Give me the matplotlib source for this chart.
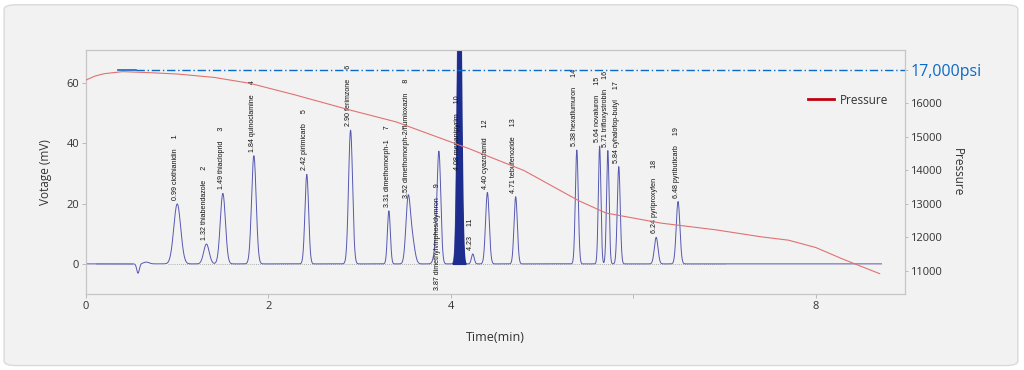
import matplotlib
matplotlib.use("Agg")
import matplotlib.pyplot as plt
import numpy as np
from matplotlib.lines import Line2D
from matplotlib.patches import FancyBboxPatch

plt.rcParams['font.family'] = ['Open Sans', 'DejaVu Sans']

# peak table
peak_rt = [1.00, 1.32, 1.50, 1.84, 2.42, 2.90, 3.32, 3.53, 3.87, 4.09,
           4.24, 4.40, 4.71, 5.38, 5.63, 5.72, 5.84, 6.25, 6.49]
peak_height = [19.9, 6.6, 23.4, 35.9, 29.7, 44.4, 17.6, 20.5, 33.0, 110.0,
               3.3, 23.7, 22.3, 37.8, 39.1, 37.6, 32.3, 8.8, 20.7]
peak_sigma = [0.038, 0.03, 0.028, 0.025, 0.02, 0.022, 0.016, 0.024, 0.02, 0.02,
              0.015, 0.02, 0.018, 0.016, 0.014, 0.014, 0.016, 0.02, 0.02]
peak_labels = ["0.99 clothianidin", "1.32 thiabendazole", "1.49 thiacloprid",
               "1.84 quinoclamine", "2.42 pirimicarb", "2.90 ferimzone",
               "3.31 dimethomorph-1", "3.52 dimethomorph-2/flumioxazin",
               "3.87 dimethylvinphos/dymron", "4.08 mepanipyrim", "4.23",
               "4.40 cyazofamid", "4.71 tebufenozide", "5.38 hexaflumuron",
               "5.64 novaluron", "5.71 trifloxystrobin", "5.84 cyhalofop-butyl",
               "6.24 pyriproxyfen", "6.48 pyributicarb"]
# where the label starts (mV); None = just above the peak
label_base = [None, None, None, None, None, None, None, None, -8.6, 31.0,
              None, None, None, None, None, None, None, None, None]

# small extra features: shoulders, injection dip
extra_rt = [3.575, 3.845, 0.57, 0.66]
extra_height = [8.0, 7.0, -3.1, 0.6]
extra_sigma = [0.028, 0.025, 0.014, 0.03]

# pressure curve (psi)
p_time = [0.0, 0.1, 0.2, 0.4, 0.7, 1.0, 1.4, 1.8, 2.3, 2.9, 3.4, 4.2,
          4.8, 5.4, 5.7, 6.3, 6.9, 7.4, 7.7, 8.0, 8.3, 8.7]
p_psi = [16700, 16820, 16890, 16950, 16920, 16880, 16780, 16600, 16250,
         15800, 15450, 14650, 14000, 13100, 12730, 12430, 12230, 12020,
         11920, 11700, 11350, 10920]

x_ticks = [0, 2, 4, 6, 8]
x_ticklabels = ["0", "2", "4", "", "8"]
left_ticks = [0, 20, 40, 60]
right_ticks = [11000, 12000, 13000, 14000, 15000, 16000, 17000]
right_ticklabels = ["11000", "12000", "13000", "14000", "15000", "16000", "17,000psi"]

# build detector trace
t = np.linspace(0, 8.72, 6000)
signal = np.zeros_like(t)
for rt, h, s in zip(peak_rt + extra_rt, peak_height + extra_height,
                    peak_sigma + extra_sigma):
    signal += h * np.exp(-0.5 * ((t - rt) / s) ** 2)

fig = plt.figure(figsize=(10.24, 3.70), dpi=100, facecolor='white')
card = FancyBboxPatch((0.004, 0.012), 0.99, 0.975, boxstyle="round,pad=0,rounding_size=0.012",
                      transform=fig.transFigure, facecolor='#f2f2f2', edgecolor='#dadada',
                      lw=1, zorder=-10)
fig.patches.append(card)

ax = fig.add_axes([0.084, 0.2054, 0.8, 0.6595])
ax.set_facecolor('#f2f2f2')
ax.set_xlim(0, 8.98)
ax.set_ylim(-10, 71)

ax.plot(t, signal, color='#5558b0', lw=0.7, zorder=3)
mask = (t > 4.02) & (t < 4.16)
ax.fill_between(t[mask], 0, signal[mask], color='#1d2d8e', zorder=3)
ax.plot([0.9, 7.0], [0, 0], color='#999999', lw=0.6, ls=(0, (1, 1.5)), zorder=2)
ax.plot([0.12, 0.5], [0, 0], color='#c8c8e0', lw=1.5, zorder=2)

for rt, h, lab, base, num in zip(peak_rt, peak_height, peak_labels, label_base,
                                 range(1, len(peak_rt) + 1)):
    y0 = h + 1.3 if base is None else base
    ax.text(rt - 0.02, y0, f"{lab}     {num}", rotation=90, ha='center', va='bottom',
            fontsize=5.1, color='#111111', family='Liberation Sans', zorder=5)

ax.set_xticks(x_ticks)
ax.set_xticklabels(x_ticklabels)
ax.set_yticks(left_ticks)
ax.tick_params(labelsize=8, colors='#333333', length=3, width=0.6, pad=2)
ax.tick_params(axis='both', color='#b0b0b0')
ax.set_xlabel("Time(min)", fontsize=9, color='#333333', labelpad=14)
ax.set_ylabel("Votage (mV)", fontsize=8.5, color='#333333', labelpad=10)
for sp in ax.spines.values():
    sp.set_color('#c6c6c6')
    sp.set_linewidth(0.8)

ax2 = ax.twinx()
ax2.set_ylim(10313, 17597)
ax2.plot(p_time, p_psi, color='#e07272', lw=0.8, zorder=4)
ax2.plot([0.35, 0.55], [17000, 17000], color='#0a6ac8', lw=1.2)
ax2.plot([0.55, 8.98], [17000, 17000], color='#0a6ac8', lw=1.0, ls=(0, (6, 2, 1, 2)))
ax2.set_yticks(right_ticks)
ax2.set_yticklabels(right_ticklabels)
ax2.tick_params(labelsize=8, colors='#333333', length=2, width=0.6, pad=1.5)
ax2.tick_params(axis='y', color='#b0b0b0')
lbls = ax2.get_yticklabels()
lbls[-1].set_color('#0a6ac8')
lbls[-1].set_fontsize(11.5)
ax2.set_ylabel("Pressure", fontsize=8.5, color='#333333', rotation=270, va='center')
ax2.yaxis.set_label_coords(1.064, 0.5)
for sp in ax2.spines.values():
    sp.set_color('#c6c6c6')
    sp.set_linewidth(0.8)

handle = Line2D([], [], color='#c00010', lw=2)
ax2.legend([handle], ["Pressure"], loc='center left', bbox_to_anchor=(0.868, 0.795),
           frameon=False, fontsize=8.5, handlelength=2.2, handletextpad=0.5,
           labelcolor='#333333')

fig.savefig("out.png", dpi=100, facecolor=fig.get_facecolor())
